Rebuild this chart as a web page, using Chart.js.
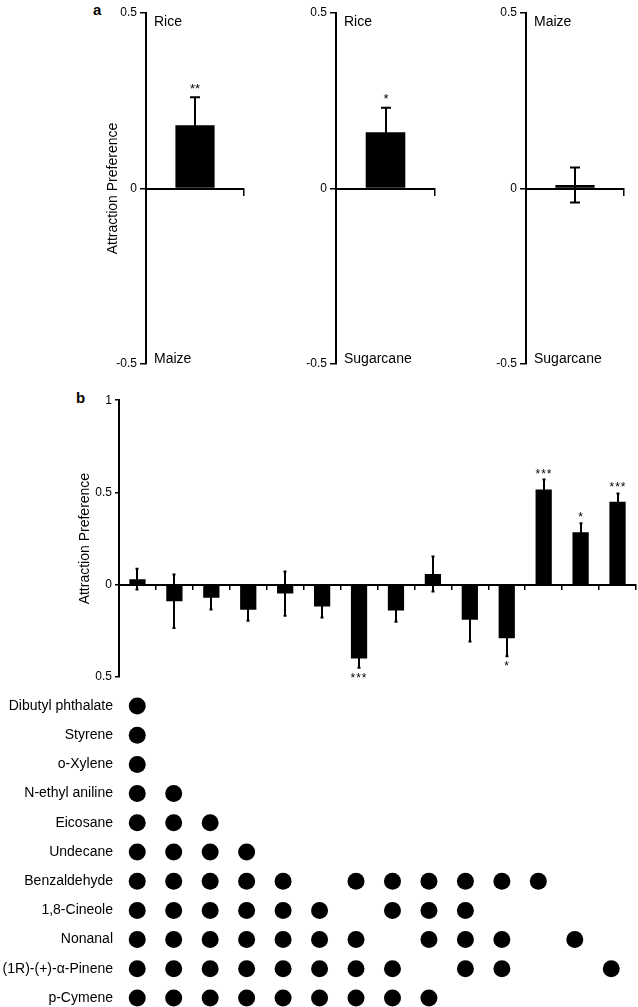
<!DOCTYPE html>
<html>
<head>
<meta charset="utf-8">
<title>Attraction Preference</title>
<script src="https://cdn.jsdelivr.net/npm/chart.js@4.4.1/dist/chart.umd.min.js"></script>
<style>
  body { margin: 0; background: #fff; width: 638px; height: 1007px; position: relative; overflow: hidden;
         font-family: "Liberation Sans", Arial, sans-serif; }
  canvas { position: absolute; }
  .panel { position: absolute; font-weight: bold; font-size: 15px; line-height: 15px; color: #000; }
</style>
</head>
<body>
<div class="panel" style="left:93px;top:2px">a</div>
<div class="panel" style="left:76px;top:390px">b</div>
<canvas id="pairA" width="190" height="390" style="left:60px;top:0"></canvas>
<canvas id="pairB" width="150" height="390" style="left:290px;top:0"></canvas>
<canvas id="pairC" width="150" height="390" style="left:480px;top:0"></canvas>
<canvas id="blendChart" width="638" height="300" style="left:0;top:390px"></canvas>
<canvas id="dotChart" width="638" height="317" style="left:0;top:690px"></canvas>
<script>
// panel a : two-choice tests between plants
const pairTop = ['Rice', 'Rice', 'Maize'];
const pairBottom = ['Maize', 'Sugarcane', 'Sugarcane'];
const pairMeans = [0.18, 0.16, 0.01];
const pairErrors = [0.08, 0.07, 0.05];
const pairStars = ['**', '*', ''];
const pairTicks = [-0.5, 0, 0.5];

// panel b : synthetic blends (numbered left to right)
const blends = ['1', '2', '3', '4', '5', '6', '7', '8', '9', '10', '11', '12', '13', '14'];
const blendMeans = [0.03, -0.09, -0.07, -0.135, -0.048, -0.118, -0.40, -0.14, 0.058, -0.19, -0.29, 0.516, 0.285, 0.45];
const blendErrors = [0.056, 0.145, 0.064, 0.06, 0.12, 0.06, 0.05, 0.06, 0.095, 0.118, 0.097, 0.054, 0.048, 0.045];
const blendStars = ['', '', '', '', '', '', '***', '', '', '', '*', '***', '*', '***'];
const blendTickValues = [-0.5, 0, 0.5, 1];
const blendTickLabels = ['0.5', '0', '0.5', '1'];

// which compounds go in which blend
const compounds = ['Dibutyl phthalate', 'Styrene', 'o-Xylene', 'N-ethyl aniline', 'Eicosane', 'Undecane',
  'Benzaldehyde', '1,8-Cineole', 'Nonanal', '(1R)-(+)-\u03b1-Pinene', 'p-Cymene'];
const compoundBlends = [
  [1],
  [1],
  [1],
  [1, 2],
  [1, 2, 3],
  [1, 2, 3, 4],
  [1, 2, 3, 4, 5, 7, 8, 9, 10, 11, 12],
  [1, 2, 3, 4, 5, 6, 8, 9, 10],
  [1, 2, 3, 4, 5, 6, 7, 9, 10, 11, 13],
  [1, 2, 3, 4, 5, 6, 7, 8, 10, 11, 14],
  [1, 2, 3, 4, 5, 6, 7, 8, 9]
];

const FONT = '"Liberation Sans", Arial, sans-serif';
Chart.defaults.font.family = FONT;
Chart.defaults.color = '#000';

// error bars + significance stars drawn from the y scale
const errorBarPlugin = {
  id: 'errbars',
  afterDatasetsDraw(chart, args, opts) {
    const ctx = chart.ctx;
    const yScale = chart.scales.y;
    const values = chart.data.datasets[0].data;
    ctx.save();
    ctx.strokeStyle = '#000';
    ctx.fillStyle = '#000';
    ctx.lineWidth = 2;
    chart.getDatasetMeta(0).data.forEach((bar, i) => {
      const v = values[i];
      const e = opts.errors[i];
      const x = Math.round(bar.x);
      const yHi = yScale.getPixelForValue(v + e);
      const yLo = yScale.getPixelForValue(v - e);
      ctx.beginPath();
      ctx.moveTo(x, yHi);
      ctx.lineTo(x, yLo);
      ctx.moveTo(x - opts.cap, yHi);
      ctx.lineTo(x + opts.cap, yHi);
      ctx.moveTo(x - opts.cap, yLo);
      ctx.lineTo(x + opts.cap, yLo);
      ctx.stroke();
      const s = opts.stars[i];
      if (s) {
        ctx.font = opts.starSize + 'px ' + FONT;
        ctx.letterSpacing = opts.starSpacing + 'px';
        ctx.textAlign = 'center';
        ctx.textBaseline = 'alphabetic';
        const cy = v >= 0 ? yHi - opts.starGap : yLo + opts.starGap;
        ctx.fillText(s, x, cy + opts.starSize * 0.5);
      }
    });
    ctx.restore();
  }
};

// plant names at the two ends of the y axis (panel a)
const endLabelPlugin = {
  id: 'ends',
  afterDraw(chart, args, opts) {
    const {ctx, chartArea} = chart;
    ctx.save();
    ctx.font = '14px ' + FONT;
    ctx.fillStyle = '#000';
    ctx.textAlign = 'left';
    ctx.textBaseline = 'alphabetic';
    ctx.fillText(opts.top, chartArea.left + 8, chartArea.top + 13);
    ctx.fillText(opts.bottom, chartArea.left + 8, chartArea.bottom - 1);
    ctx.restore();
  }
};

function makePair(id, i, axisWidth, padRight, withTitle) {
  new Chart(document.getElementById(id), {
    type: 'bar',
    data: {
      labels: [pairTop[i] + ' vs ' + pairBottom[i]],
      datasets: [{
        data: [pairMeans[i]],
        backgroundColor: '#000',
        borderWidth: 0,
        barPercentage: 0.4,
        categoryPercentage: 1
      }]
    },
    options: {
      responsive: false,
      animation: false,
      layout: { padding: { top: 13, bottom: 26, left: 0, right: padRight } },
      plugins: {
        legend: { display: false },
        tooltip: { enabled: false },
        errbars: { errors: [pairErrors[i]], stars: [pairStars[i]], cap: 5, starSize: 13, starSpacing: 0, starGap: 11 },
        ends: { top: pairTop[i], bottom: pairBottom[i] }
      },
      scales: {
        x: {
          position: { y: 0 },
          border: { color: '#000', width: 2 },
          grid: { offset: true, drawOnChartArea: false, color: '#000', lineWidth: 1.5, tickLength: 6 },
          ticks: { display: false }
        },
        y: {
          min: -0.5,
          max: 0.5,
          afterBuildTicks: s => { s.ticks = pairTicks.map(v => ({ value: v })); },
          afterFit: s => { s.width = axisWidth; },
          border: { color: '#000', width: 2 },
          grid: { drawOnChartArea: false, color: '#000', lineWidth: 1.5, tickLength: 6 },
          ticks: { color: '#000', padding: 3, font: { size: 12 }, callback: v => String(v) },
          title: {
            display: withTitle,
            text: 'Attraction Preference',
            color: '#000',
            font: { size: 14 },
            padding: { top: 45, bottom: 0 }
          }
        }
      }
    },
    plugins: [errorBarPlugin, endLabelPlugin]
  });
}

makePair('pairA', 0, 86, 6, true);
makePair('pairB', 1, 46, 5, false);
makePair('pairC', 2, 46, 6, false);

// panel b bars
new Chart(document.getElementById('blendChart'), {
  type: 'bar',
  data: {
    labels: blends,
    datasets: [{
      data: blendMeans,
      backgroundColor: '#000',
      borderWidth: 0,
      barPercentage: 0.44,
      categoryPercentage: 1
    }]
  },
  options: {
    responsive: false,
    animation: false,
    layout: { padding: { top: 9, bottom: 13, left: 0, right: 2 } },
    plugins: {
      legend: { display: false },
      tooltip: { enabled: false },
      errbars: { errors: blendErrors, stars: blendStars, cap: 1.5, starSize: 12, starSpacing: 1, starGap: 8 }
    },
    scales: {
      x: {
        position: { y: 0 },
        border: { color: '#000', width: 2 },
        grid: { offset: true, drawOnChartArea: false, color: '#000', lineWidth: 1.5, tickLength: 4 },
        ticks: { display: false }
      },
      y: {
        min: -0.5,
        max: 1,
        afterBuildTicks: s => { s.ticks = blendTickValues.map(v => ({ value: v })); },
        afterFit: s => { s.width = 119; },
        border: { color: '#000', width: 2 },
        grid: { drawOnChartArea: false, color: '#000', lineWidth: 1.5, tickLength: 4 },
        ticks: { color: '#000', padding: 3, font: { size: 12 }, callback: (v, idx) => blendTickLabels[idx] },
        title: {
          display: true,
          text: 'Attraction Preference',
          color: '#000',
          font: { size: 14 },
          padding: { top: 77, bottom: 0 }
        }
      }
    }
  },
  plugins: [errorBarPlugin]
});

// dot matrix of blend composition
const dots = [];
compounds.forEach((c, r) => {
  compoundBlends[r].forEach(b => dots.push({ x: b, y: c }));
});

new Chart(document.getElementById('dotChart'), {
  type: 'scatter',
  data: {
    datasets: [{
      data: dots,
      pointRadius: 8.5,
      pointBackgroundColor: '#000',
      pointBorderWidth: 0,
      clip: false
    }]
  },
  options: {
    responsive: false,
    animation: false,
    layout: { padding: { top: 16, bottom: 9, left: 0, right: 2 } },
    plugins: { legend: { display: false }, tooltip: { enabled: false } },
    scales: {
      x: { type: 'linear', min: 0.5, max: blends.length + 0.5, display: false },
      y: {
        type: 'category',
        labels: compounds,
        offset: false,
        afterFit: s => { s.width = 119; s.paddingTop = 0; s.paddingBottom = 0; },
        border: { display: false },
        grid: { display: false, drawTicks: false },
        ticks: { color: '#000', padding: 6, font: { size: 14 } }
      }
    }
  }
});
</script>
</body>
</html>
